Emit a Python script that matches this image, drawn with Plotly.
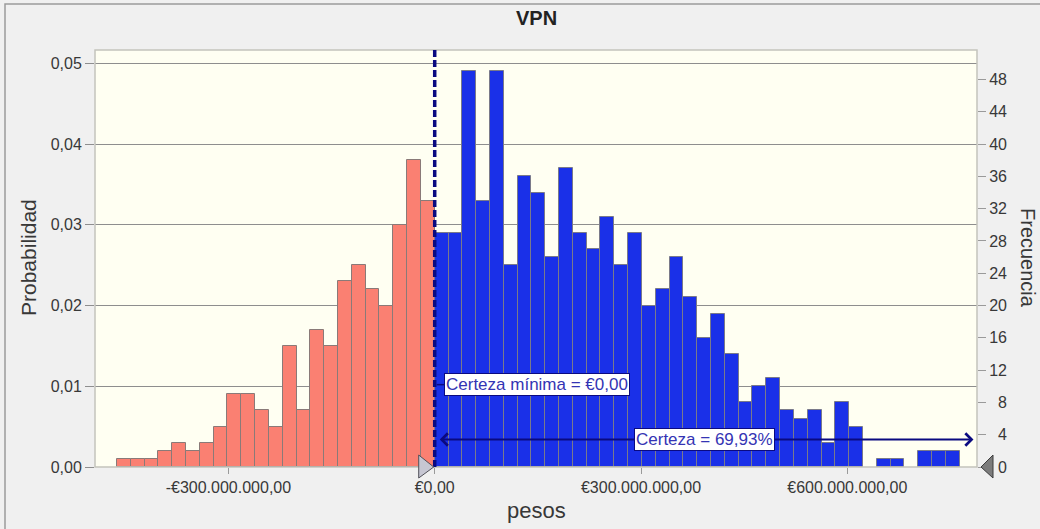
import plotly.graph_objects as go

# ---------------- data ----------------
trials = 1000
bin_width = 20.09e6
# frequencies of the bins below the certainty minimum (left of €0), left to right
freq_below = [1, 1, 1, 2, 3, 2, 3, 5, 9, 9, 7, 5, 15, 7, 17, 15, 23, 25, 22, 20, 30, 38, 33]
# frequencies of the bins from €0 upward, left to right
freq_above = [29, 29, 49, 33, 49, 25, 36, 34, 26, 37, 29, 27, 31, 25, 29, 20, 22, 26, 21,
              16, 19, 14, 8, 10, 11, 7, 6, 7, 3, 8, 5, 0, 1, 1, 0, 2, 2, 2]

x_range = [-494e6, 788.6e6]
prob_range = [0, 0.05165]
freq_range = [0, 51.65]

x_tickvals = [-300e6, 0, 300e6, 600e6]
x_ticktext = ["-€300.000.000,00", "€0,00", "€300.000.000,00", "€600.000.000,00"]
prob_tickvals = [0, 0.01, 0.02, 0.03, 0.04, 0.05]
prob_ticktext = ["0,00", "0,01", "0,02", "0,03", "0,04", "0,05"]
freq_tickvals = [0, 4, 8, 12, 16, 20, 24, 28, 32, 36, 40, 44, 48]
freq_ticktext = [("\u00a0\u00a0" + str(v)) if v < 10 else str(v) for v in freq_tickvals]

certainty_min = 0.0
certainty_min_label = "Certeza mínima = €0,00"
certainty_label = "Certeza = 69,93%"
certainty_label_x = 393e6
certainty_min_label_y = 0.0102
certainty_arrow_y = 0.0034

# ---------------- derived ----------------
n_below = len(freq_below)
x_below = [certainty_min + (i - n_below + 0.5) * bin_width for i in range(n_below)]
x_above = [certainty_min + (i + 0.5) * bin_width for i in range(len(freq_above))]
p_below = [c / trials if c else None for c in freq_below]
p_above = [c / trials if c else None for c in freq_above]

FONT = "Liberation Sans"
NAVY = "#0a0a80"
TEXT = "#383838"

fig = go.Figure()
fig.add_trace(go.Bar(x=x_below, y=p_below, width=bin_width,
                     marker=dict(color="#FA8072", line=dict(color="#8a7a78", width=1)),
                     hoverinfo="skip", showlegend=False))
fig.add_trace(go.Bar(x=x_above, y=p_above, width=bin_width,
                     marker=dict(color="#1a30e8", line=dict(color="#7a7a8a", width=1)),
                     hoverinfo="skip", showlegend=False))
# frequency companion (for the right axis)
fig.add_trace(go.Scatter(x=x_below + x_above, y=freq_below + freq_above, yaxis="y2",
                         mode="markers", marker=dict(opacity=0), hoverinfo="skip",
                         showlegend=False))

W, H = 1040, 529
L, R, T, B = 95, 63, 50, 62
pw, ph = W - L - R, H - T - B


def px_x(px):
    return (px - L) / pw


def px_y(py):
    return (H - B - py) / ph


x0_paper = (certainty_min - x_range[0]) / (x_range[1] - x_range[0])
span = x_range[1] - x_range[0]

shapes = [
    # outer frame
    dict(type="rect", xref="paper", yref="paper", x0=px_x(5), x1=px_x(1060),
         y0=px_y(560), y1=px_y(4), line=dict(color="#9a9a9a", width=1.5), layer="below"),
    # plot frame
    dict(type="rect", xref="paper", yref="paper", x0=0, x1=1, y0=0, y1=1,
         line=dict(color="#c4c4bc", width=1.5), layer="above"),
    # certainty minimum dashed line
    dict(type="line", xref="x", yref="paper", x0=certainty_min, x1=certainty_min, y0=0, y1=1,
         line=dict(color=NAVY, width=3.5, dash="7px,3px"), layer="above"),
    # connector to label
    dict(type="line", xref="paper", yref="y", xsizemode="pixel", xanchor=x0_paper,
         x0=2, x1=10, y0=certainty_min_label_y, y1=certainty_min_label_y,
         line=dict(color=NAVY, width=1.5), layer="above"),
    # left grabber triangle
    dict(type="path", xref="paper", yref="paper", xsizemode="pixel", ysizemode="pixel",
         xanchor=x0_paper, yanchor=0, path="M-1,0 L-16,12 L-16,-11 Z",
         fillcolor="#c6c6d2", line=dict(color="#505058", width=1), layer="above"),
    # right grabber triangle
    dict(type="path", xref="paper", yref="paper", xsizemode="pixel", ysizemode="pixel",
         xanchor=1, yanchor=0, path="M4,0 L16,12 L16,-11 Z",
         fillcolor="#7c7c7c", line=dict(color="#3c3c3c", width=1), layer="above"),
]

annotations = [
    dict(text="<b>VPN</b>", xref="paper", yref="paper", x=0.5, y=px_y(18),
         showarrow=False, font=dict(family=FONT, size=20, color="#222"), yanchor="middle"),
    dict(text="pesos", xref="paper", yref="paper", x=px_x(536), y=px_y(510),
         showarrow=False, font=dict(family=FONT, size=22, color=TEXT), yanchor="middle"),
    dict(text="Probabilidad", xref="paper", yref="paper", x=px_x(28), y=px_y(258),
         showarrow=False, textangle=-90, font=dict(family=FONT, size=21, color=TEXT),
         xanchor="center", yanchor="middle"),
    dict(text="Frecuencia", xref="paper", yref="paper", x=px_x(1028), y=px_y(258),
         showarrow=False, textangle=90, font=dict(family=FONT, size=20, color=TEXT),
         xanchor="center", yanchor="middle"),
    # certainty arrow
    dict(text="", xref="x", yref="y", axref="x", ayref="y",
         x=x_range[1] - 0.004 * span, y=certainty_arrow_y,
         ax=certainty_min + 0.004 * span, ay=certainty_arrow_y,
         showarrow=True, arrowside="end+start", arrowhead=4, startarrowhead=4,
         arrowsize=1.2, startarrowsize=1.2, arrowwidth=2, arrowcolor=NAVY),
    dict(text=certainty_label, xref="x", yref="y", x=certainty_label_x, y=certainty_arrow_y,
         showarrow=False, bgcolor="white", bordercolor=NAVY, borderwidth=1, borderpad=1,
         font=dict(family=FONT, size=17, color="#3434b4")),
    dict(text=certainty_min_label, xref="x", yref="y", x=certainty_min, y=certainty_min_label_y,
         xanchor="left", xshift=9.5, showarrow=False, bgcolor="white", bordercolor=NAVY,
         borderwidth=1, borderpad=1, font=dict(family=FONT, size=17, color="#3434b4")),
]

fig.update_layout(
    width=W, height=H,
    margin=dict(l=L, r=R, t=T, b=B, pad=0),
    paper_bgcolor="#F0F0F0",
    plot_bgcolor="#FFFFF2",
    bargap=0,
    barmode="overlay",
    showlegend=False,
    font=dict(family=FONT, size=16, color=TEXT),
    xaxis=dict(range=x_range, tickvals=x_tickvals, ticktext=x_ticktext, showgrid=False,
               zeroline=False, ticks="outside", ticklen=6, tickcolor="#9a9a9a",
               showline=False, tickfont=dict(family=FONT, size=16, color=TEXT)),
    yaxis=dict(range=prob_range, tickvals=prob_tickvals, ticktext=prob_ticktext,
               showgrid=True, gridcolor="#8e8e8e", gridwidth=1, zeroline=False,
               ticks="outside", ticklen=9, tickcolor="#8e8e8e", showline=False,
               tickfont=dict(family=FONT, size=16, color=TEXT)),
    yaxis2=dict(range=freq_range, overlaying="y", side="right", tickvals=freq_tickvals,
                ticktext=freq_ticktext, showgrid=False, zeroline=False, ticks="outside",
                ticklen=8, tickcolor="#9a9a9a", showline=False,
                tickfont=dict(family=FONT, size=16, color=TEXT)),
    shapes=shapes,
    annotations=annotations,
)

fig.write_html("out.html", config={"displayModeBar": False},
               post_script="document.body.style.margin='0';")
